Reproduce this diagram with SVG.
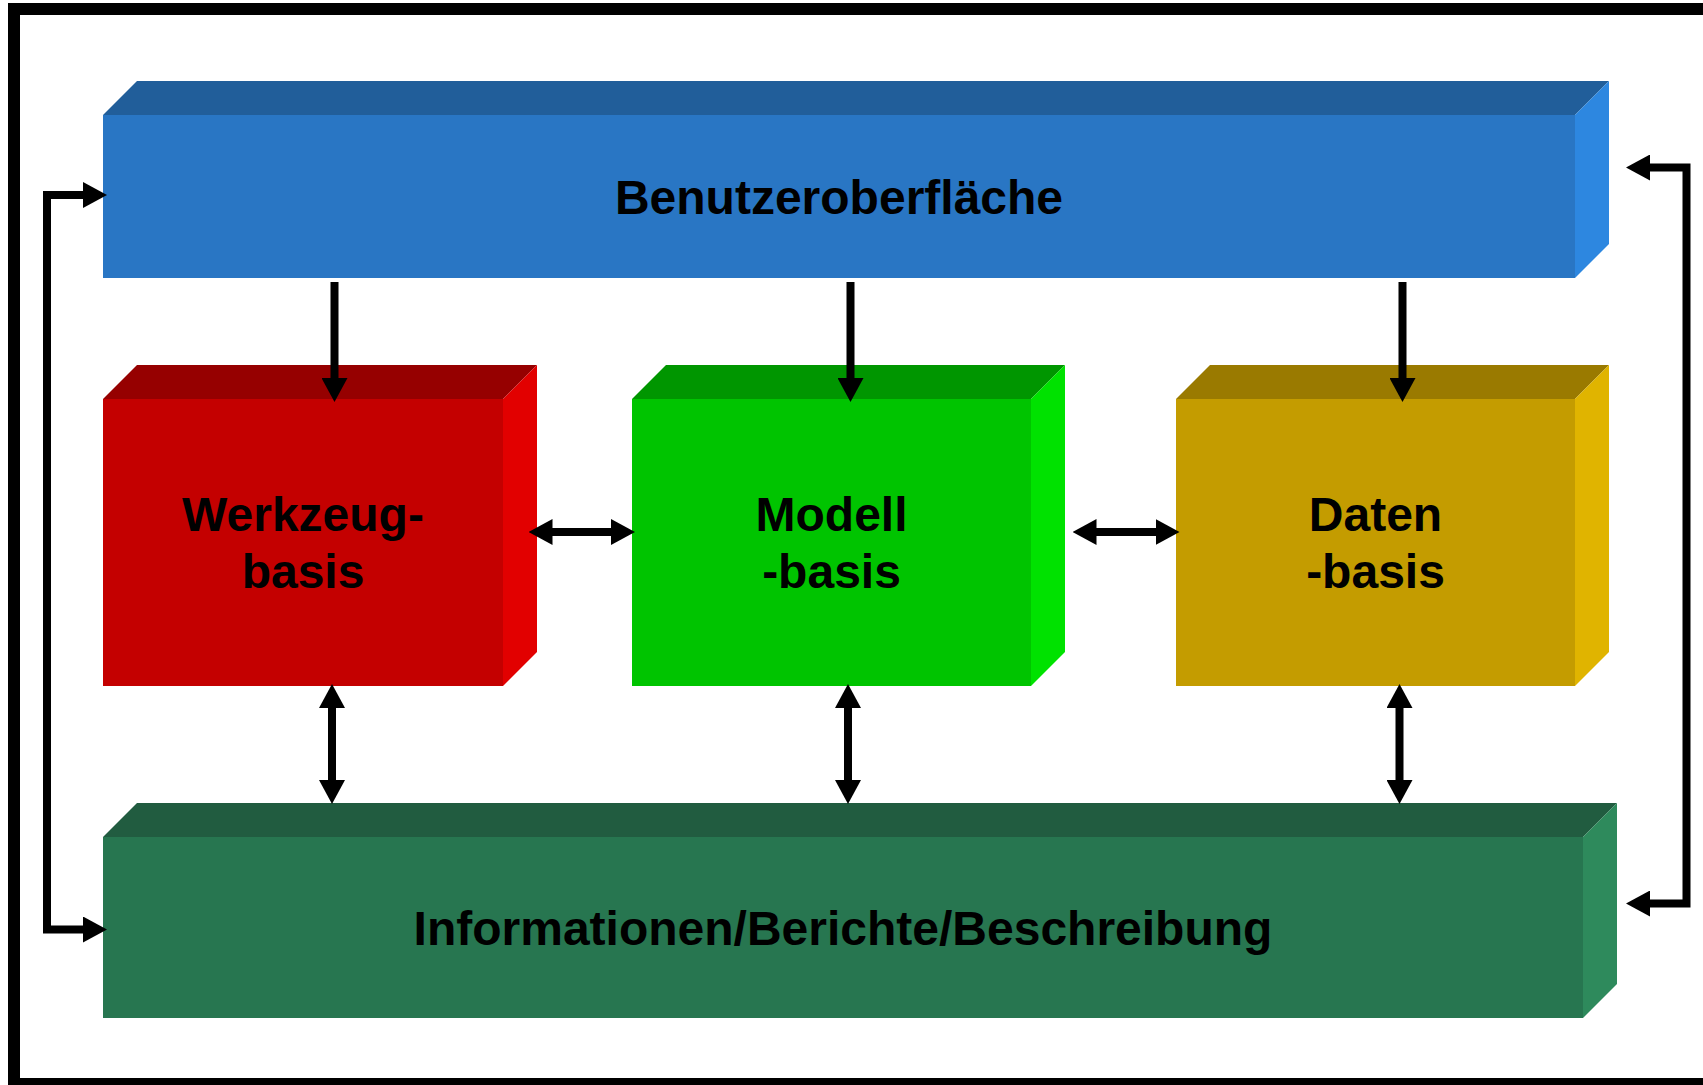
<svg xmlns="http://www.w3.org/2000/svg" width="1703" height="1085" viewBox="0 0 1703 1085">
  <style>
    .label { font-family: "Liberation Sans", Arial, sans-serif; font-weight: bold; font-size: 48px; fill: #000; text-anchor: middle; }
    .conn { fill: none; stroke: #000; stroke-width: 8; stroke-linejoin: miter; }
    .frame { fill: none; stroke: #000; stroke-width: 12; }
  </style>
  <defs>
    <marker id="head" markerUnits="userSpaceOnUse" markerWidth="24" markerHeight="26" refX="14" refY="13" orient="auto-start-reverse" viewBox="0 0 24 26">
      <path d="M0,0 L24,13 L0,26 Z" fill="#000"/>
    </marker>
  </defs>

  <rect width="1703" height="1085" fill="#fff"/>
  <rect class="frame" x="14" y="9" width="1710" height="1075"/>

  <!-- top layer: user interface -->
  <g id="benutzeroberflaeche">
    <polygon points="103,115 137,81 1609,81 1575,115" fill="#215E9A"/>
    <polygon points="1575,115 1609,81 1609,244 1575,278" fill="#2D87E0"/>
    <rect x="103" y="115" width="1472" height="163" fill="#2976C4"/>
    <text class="label" x="839" y="214">Benutzeroberfläche</text>
  </g>

  <!-- middle row -->
  <g id="werkzeugbasis">
    <polygon points="103,399 137,365 537,365 503,399" fill="#960000"/>
    <polygon points="503,399 537,365 537,652 503,686" fill="#E20000"/>
    <rect x="103" y="399" width="400" height="287" fill="#C40000"/>
    <text class="label" x="303" y="531">Werkzeug-</text>
    <text class="label" x="303" y="588">basis</text>
  </g>

  <g id="modellbasis">
    <polygon points="632,399 666,365 1065,365 1031,399" fill="#009600"/>
    <polygon points="1031,399 1065,365 1065,652 1031,686" fill="#00E200"/>
    <rect x="632" y="399" width="399" height="287" fill="#00C400"/>
    <text class="label" x="831.5" y="531">Modell</text>
    <text class="label" x="831.5" y="588">-basis</text>
  </g>

  <g id="datenbasis">
    <polygon points="1176,399 1210,365 1609,365 1575,399" fill="#9A7A00"/>
    <polygon points="1575,399 1609,365 1609,652 1575,686" fill="#E0B400"/>
    <rect x="1176" y="399" width="399" height="287" fill="#C49C00"/>
    <text class="label" x="1375.5" y="531">Daten</text>
    <text class="label" x="1375.5" y="588">-basis</text>
  </g>

  <!-- bottom layer: reports -->
  <g id="informationen">
    <polygon points="103,837 137,803 1617,803 1583,837" fill="#215C40"/>
    <polygon points="1583,837 1617,803 1617,984 1583,1018" fill="#2E8A5C"/>
    <rect x="103" y="837" width="1480" height="181" fill="#277650"/>
    <text class="label" x="843" y="945">Informationen/Berichte/Beschreibung</text>
  </g>

  <!-- connectors -->
  <g id="connectors">
    <!-- user interface down to the three bases -->
    <path class="conn" d="M334.5,282 L334.5,392" marker-end="url(#head)"/>
    <path class="conn" d="M850.5,282 L850.5,392" marker-end="url(#head)"/>
    <path class="conn" d="M1402.5,282 L1402.5,392" marker-end="url(#head)"/>

    <!-- links between neighbouring bases -->
    <path class="conn" d="M538.5,532 L625,532" marker-start="url(#head)" marker-end="url(#head)"/>
    <path class="conn" d="M1082.5,532 L1169.5,532" marker-start="url(#head)" marker-end="url(#head)"/>

    <!-- bases to reports -->
    <path class="conn" d="M332,694 L332,794" marker-start="url(#head)" marker-end="url(#head)"/>
    <path class="conn" d="M848,694 L848,794" marker-start="url(#head)" marker-end="url(#head)"/>
    <path class="conn" d="M1399.5,694 L1399.5,794" marker-start="url(#head)" marker-end="url(#head)"/>

    <!-- outer loops between top and bottom layers -->
    <path class="conn" d="M97,195 L47,195 L47,929.5 L97,929.5" marker-start="url(#head)" marker-end="url(#head)"/>
    <path class="conn" d="M1636,167.5 L1686.5,167.5 L1686.5,903.5 L1636,903.5" marker-start="url(#head)" marker-end="url(#head)"/>
  </g>
</svg>
